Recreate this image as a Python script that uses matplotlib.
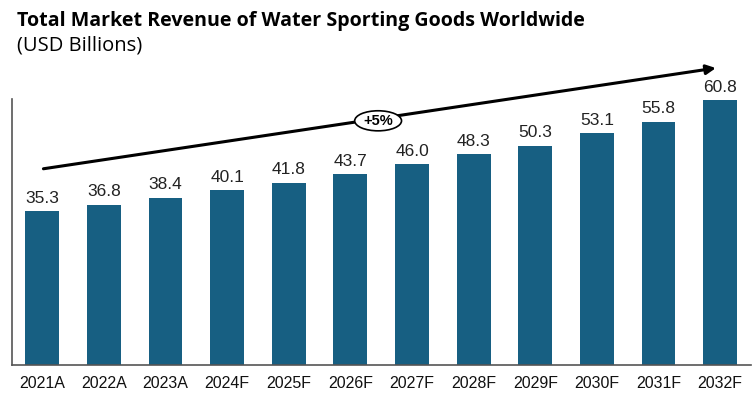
import matplotlib.pyplot as plt
from matplotlib.patches import Ellipse

years = ["2021A", "2022A", "2023A", "2024F", "2025F", "2026F",
         "2027F", "2028F", "2029F", "2030F", "2031F", "2032F"]
revenue = [35.3, 36.8, 38.4, 40.1, 41.8, 43.7, 46.0, 48.3, 50.3, 53.1, 55.8, 60.8]
cagr_label = "+5%"

plt.rcParams['font.family'] = ['Liberation Sans', 'DejaVu Sans']

fig = plt.figure(figsize=(7.52, 3.98), dpi=100)
ax = fig.add_axes([12/752, 33/398, 739/752, 266/398])

x = range(len(years))
bars = ax.bar(x, revenue, width=0.55, color='#175F82', zorder=2)

# valeurs au-dessus des barres
for i, v in enumerate(revenue):
    ax.text(i, v + 1.2, f"{v:.1f}", ha='center', va='bottom', fontsize=12.5,
            color='#222222', clip_on=False)

ax.set_xlim(-0.49, 11.5)
ax.set_ylim(0, 61)
ax.set_xticks(list(x))
ax.set_xticklabels(years, fontsize=11.5, color='#111111')
ax.tick_params(axis='x', length=0, pad=8)
ax.set_yticks([])

for s in ['top', 'right']:
    ax.spines[s].set_visible(False)
ax.spines['left'].set_color('#555555')
ax.spines['bottom'].set_color('#555555')
ax.spines['left'].set_linewidth(1.2)
ax.spines['bottom'].set_linewidth(1.2)

# flèche de croissance
ax.annotate("", xy=(10.93, 68.1), xytext=(0.02, 45.0),
            arrowprops=dict(arrowstyle='-|>', color='black', lw=2.2,
                            mutation_scale=14, shrinkA=0, shrinkB=0),
            annotation_clip=False)
# ellipse du TCAC
ell = Ellipse((5.45, 56.0), width=0.76, height=4.6, facecolor='white',
              edgecolor='black', lw=1.2, zorder=4, clip_on=False)
ax.add_patch(ell)
ax.text(5.45, 56.0, cagr_label, ha='center', va='center', fontsize=10.5,
        fontweight='bold', zorder=5, clip_on=False)

fig.text(17/752, 1 - 21/398, "Total Market Revenue of Water Sporting Goods Worldwide",
         fontsize=14.1, fontweight='bold', va='center', family=['Open Sans', 'DejaVu Sans'])
fig.text(17/752, 1 - 46/398, "(USD Billions)", fontsize=14.5, va='center',
         family=['Open Sans', 'DejaVu Sans'])

fig.savefig("out.png", dpi=100)
